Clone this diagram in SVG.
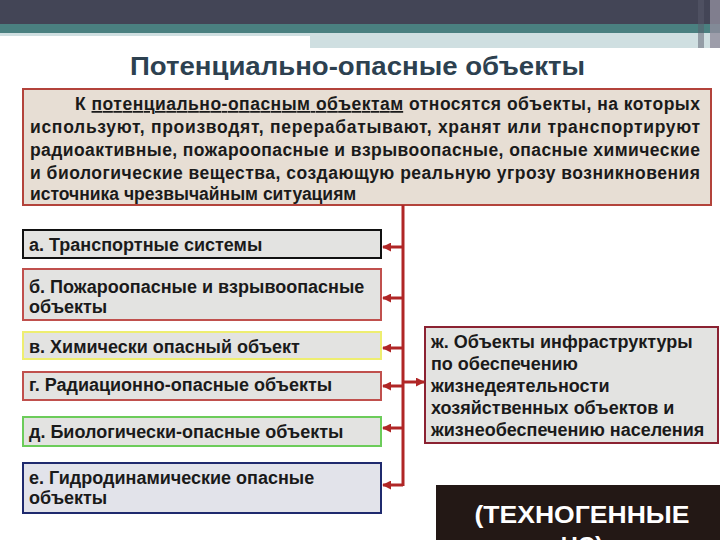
<svg xmlns="http://www.w3.org/2000/svg" width="720" height="540" viewBox="0 0 720 540">
  <style>
    .t { font-family: "Liberation Sans", Arial, sans-serif; font-weight: bold; fill: #1a1a1a; }
    .main { font-size: 17.5px; }
    .item { font-size: 18px; }
    .box { stroke-width: 2; }
    .gray { fill: #e3e3e1; }
    .conn { stroke: #b02626; stroke-width: 3; fill: none; }
  </style>
  <defs>
    <marker id="arr" viewBox="0 0 10 10" refX="9" refY="5" markerWidth="3" markerHeight="3" orient="auto" markerUnits="strokeWidth">
      <path d="M0,0 L10,5 L0,10 z" fill="#b02626"/>
    </marker>
  </defs>
  <rect width="720" height="540" fill="#ffffff"/>
  <g id="header">
    <rect x="0" y="0" width="720" height="24" fill="#434556"/>
    <rect x="0" y="24" width="720" height="9" fill="#4a8080"/>
    <rect x="0" y="33" width="720" height="3" fill="#cfdfe1"/>
    <rect x="310" y="33" width="410" height="15" fill="#cfdfe1"/>
    <rect x="698" y="0" width="6" height="48" fill="#5a5c6c" opacity="0.5"/>
    <rect x="710" y="0" width="10" height="48" fill="#908c9c" opacity="0.8"/>
  </g>
  <g id="title">
    <text x="130" y="75" class="t" font-size="25" style="fill:#2d4150" textLength="455" lengthAdjust="spacingAndGlyphs">Потенциально-опасные объекты</text>
  </g>
  <g id="definition">
    <rect x="23" y="89" width="688" height="116" fill="#e7ded4" stroke="#b3433b" class="box"/>
    <text class="t main" x="75" y="110" textLength="625" lengthAdjust="spacing">К <tspan text-decoration="underline">потенциально-опасным объектам</tspan> относятся объекты, на которых</text>
    <text class="t main" x="30" y="133" textLength="670" lengthAdjust="spacing">используют, производят, перерабатывают, хранят или транспортируют</text>
    <text class="t main" x="30" y="156" textLength="670" lengthAdjust="spacing">радиоактивные, пожароопасные и взрывоопасные, опасные химические</text>
    <text class="t main" x="30" y="179" textLength="670" lengthAdjust="spacing">и биологические вещества, создающую реальную угрозу возникновения</text>
    <text class="t main" x="30" y="200">источника чрезвычайным ситуациям</text>
  </g>
  <g id="node-a">
    <rect x="23" y="230" width="358" height="28" class="box gray" stroke="#111111"/>
    <text class="t item" x="29" y="251">а. Транспортные системы</text>
  </g>
  <g id="node-b">
    <rect x="23" y="269" width="358" height="51" class="box gray" stroke="#c0504d"/>
    <text class="t item" x="29" y="293">б. Пожароопасные и взрывоопасные</text>
    <text class="t item" x="29" y="313">объекты</text>
  </g>
  <g id="node-v">
    <rect x="23" y="332" width="358" height="27" class="box gray" stroke="#eeee70"/>
    <text class="t item" x="29" y="353">в. Химически опасный объект</text>
  </g>
  <g id="node-g">
    <rect x="23" y="372" width="358" height="28" class="box gray" stroke="#c0504d"/>
    <text class="t item" x="29" y="391">г. Радиационно-опасные объекты</text>
  </g>
  <g id="node-d">
    <rect x="23" y="417" width="358" height="29" class="box gray" stroke="#6ccc5a"/>
    <text class="t item" x="29" y="438">д. Биологически-опасные объекты</text>
  </g>
  <g id="node-e">
    <rect x="23" y="463" width="358" height="50" class="box" fill="#e2e3ea" stroke="#1f2a6e"/>
    <text class="t item" x="29" y="484">е. Гидродинамические опасные</text>
    <text class="t item" x="29" y="504">объекты</text>
  </g>
  <g id="node-zh">
    <rect x="425" y="327" width="293" height="116" class="box gray" stroke="#8b2232"/>
    <text class="t item" x="431" y="348">ж. Объекты инфраструктуры</text>
    <text class="t item" x="431" y="370">по обеспечению</text>
    <text class="t item" x="431" y="392">жизнедеятельности</text>
    <text class="t item" x="431" y="414">хозяйственных объектов и</text>
    <text class="t item" x="431" y="436">жизнеобеспечению населения</text>
  </g>
  <g id="technogenic">
    <rect x="436" y="485" width="284" height="55" fill="#231815"/>
    <text x="582" y="523" text-anchor="middle" font-family="Liberation Sans, Arial, sans-serif" font-weight="bold" font-size="24" fill="#ffffff" textLength="215" lengthAdjust="spacingAndGlyphs">(ТЕХНОГЕННЫЕ</text>
    <text x="582" y="554" text-anchor="middle" font-family="Liberation Sans, Arial, sans-serif" font-weight="bold" font-size="24" fill="#ffffff">ЧС)</text>
  </g>
  <g id="connectors">
    <path class="conn" d="M403,205 V486"/>
    <path class="conn" d="M403,247 H383" marker-end="url(#arr)"/>
    <path class="conn" d="M403,298 H383" marker-end="url(#arr)"/>
    <path class="conn" d="M403,348 H383" marker-end="url(#arr)"/>
    <path class="conn" d="M403,386 H383" marker-end="url(#arr)"/>
    <path class="conn" d="M403,428 H383" marker-end="url(#arr)"/>
    <path class="conn" d="M403,485 H383" marker-end="url(#arr)"/>
    <path class="conn" d="M403,382 H424" marker-end="url(#arr)"/>
  </g>
</svg>
